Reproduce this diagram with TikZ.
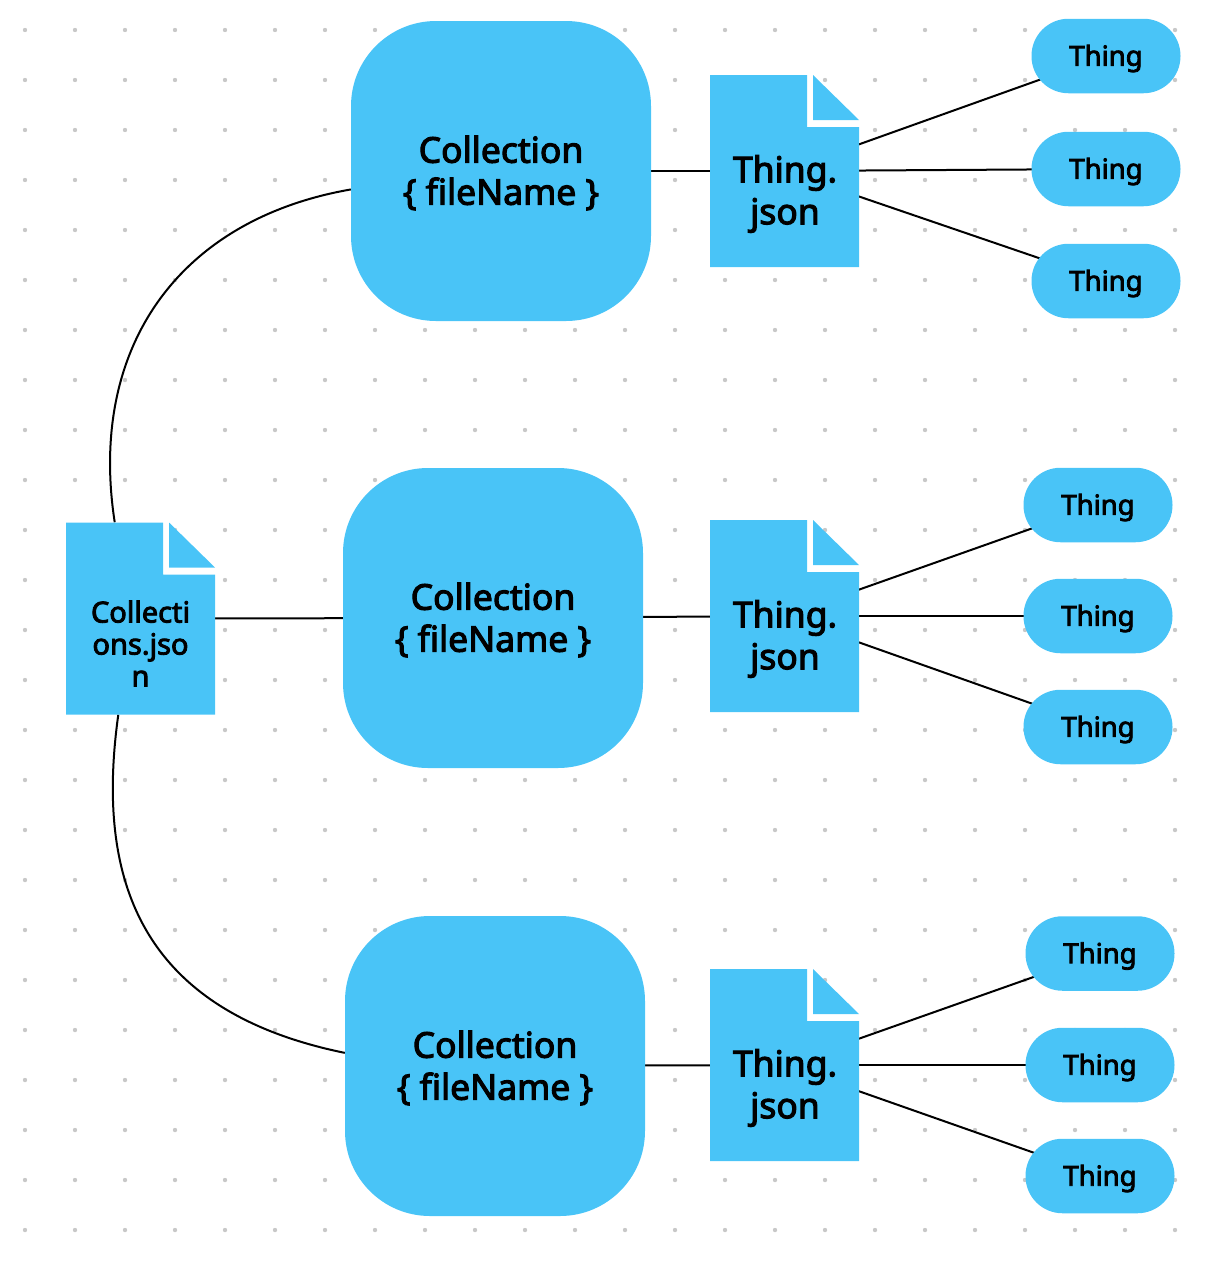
\documentclass[tikz,border=0pt]{standalone}
\usepackage{fontspec}
\setmainfont{Noto Sans}[RawFeature={embolden=3}]
\usetikzlibrary{backgrounds}
\definecolor{collblue}{HTML}{49C4F7}
\definecolor{griddot}{HTML}{C8C8C8}
\tikzset{
  collbox/.style={fill=collblue, rounded corners=85pt, minimum width=300pt, minimum height=300pt, inner sep=0pt},
  thingbox/.style={fill=collblue, rounded corners=37pt, minimum width=149pt, minimum height=74.5pt, inner sep=0pt},
  filebox/.style={minimum width=149pt, minimum height=192pt, inner sep=0pt, path picture={
    \fill[collblue] (-74.5,-96) -- (22.5,-96) -- (22.5,-44) -- (74.5,-44) -- (74.5,96) -- (-74.5,96) -- cycle;
    \fill[collblue] (28.5,-96) -- (74.5,-51) -- (28.5,-51) -- cycle;}},
  colltext/.style={align=center, inner sep=0pt, font=\fontsize{35.5}{42}\selectfont, yshift=-2pt},
  thingtext/.style={inner sep=0pt, font=\fontsize{27.5}{32}\selectfont, yshift=-2.5pt},
  filetext/.style={align=center, inner sep=0pt, font=\fontsize{35.5}{42}\selectfont, yshift=-23pt, xshift=0.5pt},
  roottext/.style={align=center, inner sep=0pt, font=\fontsize{29}{32}\selectfont, yshift=-25pt},
  wire/.style={line width=2pt, color=black}
}
\begin{document}
\begin{tikzpicture}[x=1pt, y=-1pt]
  \useasboundingbox (0,0) rectangle (1214,1270);
  % root file
  \node[filebox, label={[roottext]center:Collecti\\ons.jso\\n}] (rootfile) at (140.5,618.5) {};
  % collections
  \node[collbox, label={[colltext]center:Collection\\\{ fileName \}}] (coll1) at (501,171) {};
  \node[collbox, label={[colltext]center:Collection\\\{ fileName \}}] (coll2) at (493,618) {};
  \node[collbox, label={[colltext]center:Collection\\\{ fileName \}}] (coll3) at (495,1066) {};
  % thing files
  \node[filebox, label={[filetext]center:Thing.\\json}] (file1) at (784.5,171) {};
  \node[filebox, label={[filetext]center:Thing.\\json}] (file2) at (784.5,616) {};
  \node[filebox, label={[filetext]center:Thing.\\json}] (file3) at (784.5,1065) {};
  % things
  \node[thingbox, label={[thingtext]center:Thing}] (thing11) at (1106,56) {};
  \node[thingbox, label={[thingtext]center:Thing}] (thing12) at (1106,169) {};
  \node[thingbox, label={[thingtext]center:Thing}] (thing13) at (1106,281) {};
  \node[thingbox, label={[thingtext]center:Thing}] (thing21) at (1098,505) {};
  \node[thingbox, label={[thingtext]center:Thing}] (thing22) at (1098,616) {};
  \node[thingbox, label={[thingtext]center:Thing}] (thing23) at (1098,727) {};
  \node[thingbox, label={[thingtext]center:Thing}] (thing31) at (1100,953.5) {};
  \node[thingbox, label={[thingtext]center:Thing}] (thing32) at (1100,1065) {};
  \node[thingbox, label={[thingtext]center:Thing}] (thing33) at (1100,1176) {};
  \begin{scope}[on background layer]
    \foreach \gx in {25,75,...,1175}
      \foreach \gy in {30,80,...,1230}
        \fill[griddot] (\gx,\gy) circle (2.2pt);
    \foreach \row in {1,2,3} {
      \draw[wire] (coll\row.center) -- (file\row.center);
      \foreach \col in {1,2,3}
        \draw[wire] (file\row.center) -- (thing\row\col.center);
    }
    \draw[wire] (rootfile.center) -- (coll2.center);
    \draw[wire] (rootfile.105) .. controls +(-27,-175) and +(-172,30) .. (coll1.187);
    \draw[wire] (rootfile.-103) .. controls +(-23,165) and +(-205,-42) .. (coll3.175.4);
  \end{scope}
\end{tikzpicture}
\end{document}
